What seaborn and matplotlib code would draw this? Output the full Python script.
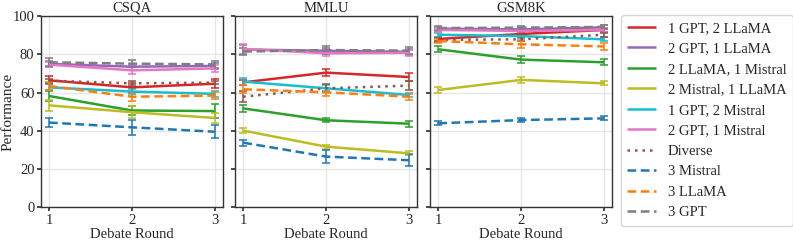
import numpy as np
import pandas as pd
import matplotlib
matplotlib.use("Agg")
import matplotlib.pyplot as plt
import seaborn as sns

rounds = [1, 2, 3]
datasets = ["CSQA", "MMLU", "GSM8K"]
series_names = ["1 GPT, 2 LLaMA", "2 GPT, 1 LLaMA", "2 LLaMA, 1 Mistral",
                "2 Mistral, 1 LLaMA", "1 GPT, 2 Mistral", "2 GPT, 1 Mistral",
                "Diverse", "3 Mistral", "3 LLaMA", "3 GPT"]
colors = ["tab:red", "tab:purple", "tab:green", "tab:olive", "tab:cyan",
          "tab:pink", "tab:brown", "tab:blue", "tab:orange", "tab:gray"]
linestyles = ["-", "-", "-", "-", "-", "-", ":", "--", "--", "--"]

csqa_mean = [
    [66.4, 62.7, 64.6],
    [75.0, 73.5, 73.9],
    [58.2, 50.6, 50.3],
    [53.3, 49.7, 46.7],
    [62.7, 60.5, 59.3],
    [74.6, 71.6, 72.6],
    [66.2, 64.8, 65.2],
    [44.3, 41.8, 39.5],
    [63.4, 57.8, 58.4],
    [75.8, 75.1, 74.7],
]
csqa_err = [
    [2.0, 2.5, 2.5],
    [1.5, 1.5, 1.5],
    [2.5, 2.5, 3.5],
    [3.0, 3.0, 2.5],
    [1.5, 1.5, 1.5],
    [1.5, 2.0, 2.0],
    [1.0, 1.0, 1.0],
    [2.5, 4.0, 3.5],
    [2.0, 2.0, 2.0],
    [2.0, 2.0, 2.0],
]
mmlu_mean = [
    [65.3, 70.4, 68.1],
    [82.5, 81.8, 81.3],
    [51.7, 45.5, 43.7],
    [40.1, 31.7, 28.2],
    [65.7, 62.2, 58.7],
    [82.8, 80.5, 80.8],
    [57.8, 62.2, 63.6],
    [33.8, 26.5, 24.6],
    [61.7, 60.1, 57.8],
    [81.4, 82.2, 81.9],
]
mmlu_err = [
    [1.5, 2.0, 2.0],
    [2.5, 1.5, 1.5],
    [2.0, 1.0, 1.5],
    [1.5, 1.0, 1.0],
    [2.0, 1.5, 1.0],
    [2.5, 1.5, 1.5],
    [3.0, 2.0, 2.5],
    [1.5, 3.5, 3.0],
    [2.0, 2.0, 1.5],
    [2.0, 2.0, 2.0],
]
gsm_mean = [
    [88.0, 90.6, 92.7],
    [93.4, 93.0, 94.1],
    [82.6, 77.2, 75.8],
    [61.3, 66.6, 64.8],
    [90.2, 89.5, 87.8],
    [92.7, 92.2, 92.7],
    [87.5, 87.8, 90.2],
    [43.9, 45.6, 46.5],
    [86.9, 85.2, 84.1],
    [93.7, 93.9, 94.3],
]
gsm_err = [
    [1.0, 1.0, 1.0],
    [1.0, 1.0, 1.0],
    [1.5, 2.0, 1.5],
    [1.5, 1.5, 1.0],
    [1.0, 1.0, 1.0],
    [1.0, 1.0, 1.0],
    [1.0, 1.0, 1.0],
    [1.0, 1.0, 1.0],
    [1.0, 2.0, 2.0],
    [1.0, 1.0, 1.0],
]

means = {"CSQA": csqa_mean, "MMLU": mmlu_mean, "GSM8K": gsm_mean}
errs = {"CSQA": csqa_err, "MMLU": mmlu_err, "GSM8K": gsm_err}

sns.set_theme(style="whitegrid")
plt.rcParams["font.family"] = ["Liberation Serif", "DejaVu Serif"]
plt.rcParams["axes.edgecolor"] = "#333333"
plt.rcParams["grid.color"] = "#e6e6e6"

fig = plt.figure(figsize=(7.93, 2.42), dpi=100)
bottom, top = 0.1434, 0.9339
lefts = [0.0513, 0.2963, 0.5422]
width = 0.230
axes = []
for i, ds in enumerate(datasets):
    ax = fig.add_axes([lefts[i], bottom, width, top - bottom],
                      sharey=axes[0] if axes else None)
    axes.append(ax)
    rows = []
    for name, vals in zip(series_names, means[ds]):
        for r, v in zip(rounds, vals):
            rows.append({"round": r, "value": v, "series": name})
    df = pd.DataFrame(rows)
    sns.lineplot(data=df, x="round", y="value", hue="series", style="series",
                 palette=dict(zip(series_names, colors)),
                 dashes={n: ((1, 0) if ls == "-" else (1, 2) if ls == ":" else (3.5, 1.8))
                         for n, ls in zip(series_names, linestyles)},
                 hue_order=series_names, style_order=series_names,
                 linewidth=1.8, ax=ax, legend=(i == 2), errorbar=None)
    for j, name in enumerate(series_names):
        ax.errorbar(rounds, means[ds][j], yerr=errs[ds][j], fmt="none",
                    ecolor=colors[j], elinewidth=1.3, capsize=3, capthick=1.3,
                    alpha=0.85, zorder=1.5)
    ax.set_title(ds, fontsize=10.5, pad=3)
    ax.set_xlim(0.9, 3.1)
    ax.set_ylim(0, 100)
    ax.set_xticks(rounds)
    ax.set_yticks([0, 20, 40, 60, 80, 100])
    ax.set_xlabel("Debate Round", fontsize=10.5, labelpad=1)
    ax.tick_params(axis="both", labelsize=10.5, length=3, pad=1.5,
                   left=True, bottom=True, color="#333333")
    if i == 0:
        ax.set_ylabel("Performance", fontsize=11)
        ax.yaxis.set_label_coords(-0.145, 0.5)
    else:
        ax.set_ylabel("")
        ax.tick_params(axis="y", labelleft=False)
    for s in ax.spines.values():
        s.set_linewidth(1.0)

leg = axes[2].get_legend()
handles = leg.legend_handles
leg.remove()
fig.legend(handles, series_names, loc="upper left",
           bbox_to_anchor=(0.7827, 0.938), fontsize=10.5, frameon=True,
           handlelength=2.0, labelspacing=0.5, borderpad=0.45,
           handletextpad=0.8, borderaxespad=0)

fig.savefig("out.png", dpi=100)
